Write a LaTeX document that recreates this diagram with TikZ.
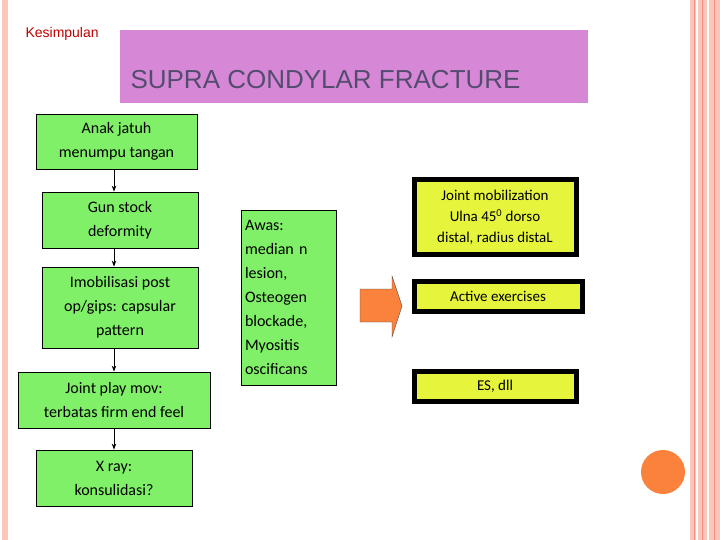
\documentclass[tikz,border=0pt]{standalone}
\usepackage{fontspec}
\setmainfont{Carlito}
\newfontfamily\arialfont{Liberation Sans}
\usetikzlibrary{arrows.meta, positioning}
\definecolor{boxgreen}{RGB}{128,240,104}
\definecolor{boxyellow}{RGB}{230,245,60}
\definecolor{titlepink}{RGB}{214,136,214}
\definecolor{titletext}{RGB}{84,76,110}
\definecolor{stripe}{RGB}{250,200,185}
\definecolor{dotorange}{RGB}{250,130,60}
\begin{document}
\begin{tikzpicture}[x=1pt, y=-1pt,
    flowbox/.style={rectangle, draw=black, thick, fill=boxgreen, align=center, font=\fontsize{16}{24}\selectfont, inner sep=0pt},
    todo/.style={rectangle, draw=black, line width=5pt, fill=boxyellow, align=center, font=\fontsize{15}{21}\selectfont, inner sep=0pt},
    arrow/.style={-{Stealth[length=6pt]}, thick}
]
\useasboundingbox (0,0) rectangle (720,540);

% frame stripes
\fill[stripe] (2,0) rectangle (8,540);
\fill[stripe] (690,0) rectangle (720,540);
\draw[white, line width=1.5pt] (697,0) -- (697,540) (708,0) -- (708,540);
\draw[stripe!70!red, thin] (694,0) -- (694,540) (702,0) -- (702,540) (714,0) -- (714,540);

% title
\node[font=\arialfont\fontsize{14}{16}\selectfont, text=red!75!black, anchor=west] (kesimpulan) at (22,34) {Kesimpulan};
\node[rectangle, fill=titlepink, minimum width=468pt, minimum height=73pt, anchor=north west] (titlebox) at (120,30) {};
\node[font=\arialfont\fontsize{26}{30}\selectfont, text=titletext, anchor=west] (title) at (127,80) {SUPRA CONDYLAR FRACTURE};

% left column
\node[flowbox, minimum width=161pt, minimum height=55pt] (jatuh) at (116.5,141.5) {Anak jatuh\\menumpu tangan};
\node[flowbox, minimum width=156pt, minimum height=56pt] (gunstock) at (120,220) {Gun stock\\deformity};
\node[flowbox, minimum width=156pt, minimum height=81pt] (imobil) at (120,307.5) {Imobilisasi post\\op/gips: capsular\\pattern};
\node[flowbox, minimum width=192pt, minimum height=56pt] (jointplay) at (114,400) {Joint play mov:\\terbatas firm end feel};
\node[flowbox, minimum width=156pt, minimum height=56pt] (xray) at (114,478) {X ray:\\konsulidasi?};

\draw[arrow] (jatuh.south -| 114,0) -- (gunstock.north -| 114,0);
\draw[arrow] (gunstock.south -| 114,0) -- (imobil.north -| 114,0);
\draw[arrow] (imobil.south -| 114,0) -- (jointplay.north -| 114,0);
\draw[arrow] (jointplay.south -| 114,0) -- (xray.north -| 114,0);

% middle
\node[flowbox, minimum width=95pt, minimum height=175pt, align=left, text width=87pt] (awas) at (288.5,297.5) {Awas:\\median n\\lesion,\\Osteogen\\blockade,\\Myositis\\oscificans};
\draw[fill=dotorange, draw=black!70, thin] (360,289) -- (392,289) -- (392,276) -- (402,306) -- (392,337) -- (392,322) -- (360,322) -- cycle;

% right column
\node[todo, minimum width=162pt, minimum height=74pt] (mobil) at (495,217) {Joint mobilization\\Ulna 45\textsuperscript{0} dorso\\distal, radius distaL};
\node[todo, minimum width=168pt, minimum height=30pt] (active) at (498,296) {Active exercises};
\node[todo, minimum width=162pt, minimum height=30pt] (es) at (495,386) {ES, dll};

% dot
\fill[dotorange] (663,472) circle (22);
\end{tikzpicture}
\end{document}
